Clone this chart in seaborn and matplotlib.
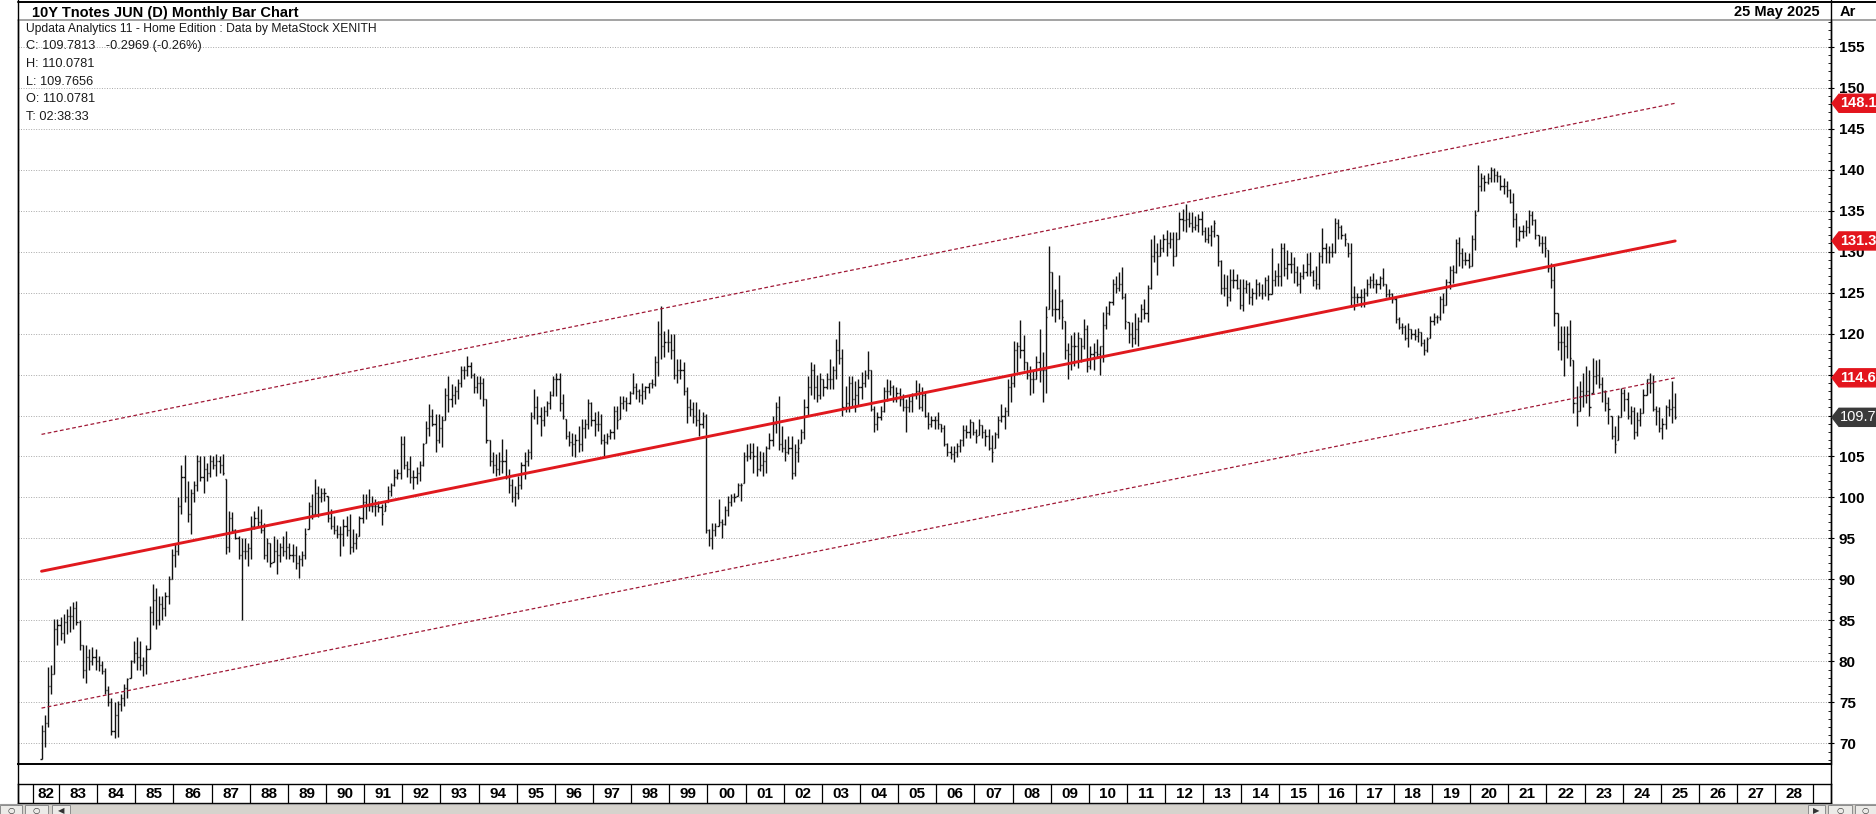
import numpy as np
import pandas as pd
import matplotlib
matplotlib.use("Agg")
import matplotlib.pyplot as plt
import matplotlib.transforms as mtransforms
from matplotlib.patches import Polygon, Rectangle
from matplotlib.ticker import MultipleLocator
import seaborn as sns

# ---- data: monthly bars, first bar is Jul 1982 ----
first_year = 1982
first_month = 7

highs = [
    72.2, 73.5, 79.3, 79.5, 85.2, 85.2,                                          # 1982
    85.4, 85.8, 86.4, 86.8, 87.2, 87.4, 85.0, 82.0, 82.0, 81.5, 81.8, 81.5,      # 1983
    80.6, 80.0, 79.2, 77.0, 75.5, 75.0, 75.2, 76.0, 77.2, 78.0, 80.2, 82.5,      # 1984
    83.0, 82.5, 80.5, 82.0, 86.8, 89.5, 89.0, 88.0, 88.0, 88.5, 90.4, 93.7,      # 1985
    94.5, 100.0, 104.0, 105.2, 102.0, 101.0, 102.0, 105.2, 105.0, 105.0, 104.2, 105.2,
    105.1, 105.3, 105.1, 105.3, 102.2, 98.4, 98.2, 96.1, 95.3, 95.1, 95.1, 94.5,
    97.8, 98.4, 99.0, 98.6, 96.9, 95.1, 94.5, 95.3, 94.9, 94.5, 95.3, 95.9,      # 1988
    94.5, 94.3, 94.1, 93.0, 93.5, 96.3, 99.4, 100.4, 102.2, 101.4, 101.2, 101.2,
    100.2, 98.6, 97.8, 96.7, 96.5, 97.4, 97.8, 98.0, 96.1, 95.7, 97.8, 100.4,    # 1990
    100.4, 101.0, 100.2, 99.8, 99.6, 99.2, 99.6, 101.4, 101.8, 103.5, 103.5, 107.5,
    107.5, 104.5, 105.1, 103.3, 103.7, 104.5, 106.7, 109.3, 111.4, 110.8, 110.2, 110.2,
    110.0, 113.4, 114.8, 113.8, 113.6, 114.4, 116.1, 116.0, 117.3, 116.5, 115.2, 114.8,
    114.8, 114.6, 112.0, 107.0, 105.5, 105.3, 105.5, 107.1, 105.9, 103.5, 102.2, 101.4,
    102.6, 104.3, 105.5, 105.9, 110.4, 113.2, 112.4, 111.0, 111.2, 111.8, 113.0, 114.8,
    115.2, 115.2, 112.6, 109.6, 108.1, 107.9, 107.7, 108.7, 109.6, 109.6, 112.0, 111.6,
    110.4, 110.6, 110.2, 107.7, 107.9, 108.3, 111.2, 111.2, 112.4, 112.4, 112.2, 113.0,
    115.2, 114.0, 113.2, 114.0, 113.6, 114.0, 114.4, 117.3, 121.5, 123.4, 120.3, 120.5,
    119.9, 119.9, 116.9, 116.9, 116.5, 113.5, 112.0, 111.6, 111.6, 110.8, 110.4, 110.2,
    96.1, 96.9, 96.9, 99.8, 97.4, 99.0, 100.2, 100.4, 100.6, 101.8, 101.8, 105.5,  # 2000
    106.5, 106.7, 106.7, 106.3, 105.7, 105.5, 106.3, 107.9, 110.0, 111.6, 112.4, 108.7,
    107.1, 107.5, 107.5, 106.5, 107.1, 108.3, 112.0, 114.8, 116.5, 116.3, 115.0, 115.2,
    114.4, 115.2, 116.9, 116.1, 119.3, 121.5, 118.1, 113.6, 114.8, 114.8, 114.2, 114.4,
    115.3, 115.5, 117.9, 115.5, 111.2, 110.4, 111.2, 113.5, 114.5, 114.3, 113.7, 113.5,
    113.3, 112.6, 112.0, 112.4, 112.8, 114.3, 114.0, 113.5, 112.8, 110.4, 110.0, 110.0,
    110.4, 109.0, 108.8, 106.7, 106.3, 106.3, 106.7, 107.1, 108.8, 108.8, 109.6, 109.2,
    108.4, 109.6, 108.8, 108.4, 108.4, 107.6, 108.0, 110.0, 111.4, 111.0, 114.5, 114.9,
    119.1, 119.0, 121.7, 119.8, 116.5, 116.1, 115.5, 117.3, 120.6, 117.7, 123.4, 130.7,
    127.5, 125.4, 127.1, 124.2, 121.5, 118.9, 119.8, 120.2, 120.2, 119.5, 121.8, 121.0,
    118.5, 118.9, 119.3, 118.5, 122.6, 123.4, 124.0, 126.7, 127.0, 127.5, 128.1, 125.0,
    121.4, 121.4, 122.5, 122.0, 123.6, 124.2, 125.9, 131.5, 132.0, 131.1, 131.5, 132.2,
    132.6, 132.4, 132.4, 132.4, 134.8, 135.2, 135.8, 134.8, 134.8, 134.4, 134.6, 135.0,
    133.0, 133.0, 133.2, 133.8, 132.0, 129.0, 127.3, 127.1, 127.9, 127.9, 127.3, 126.7,
    126.7, 126.5, 126.3, 125.6, 126.7, 126.3, 126.0, 126.9, 127.1, 130.4, 127.8, 128.6,
    131.1, 131.1, 130.2, 130.0, 129.4, 128.2, 127.5, 128.5, 129.8, 130.0, 127.8, 128.2,
    130.0, 132.9, 131.1, 130.7, 131.0, 134.1, 134.0, 133.3, 132.3, 131.1, 131.1, 125.8,
    125.0, 125.4, 125.6, 126.6, 127.0, 127.4, 126.6, 127.0, 128.0, 126.0, 125.4, 125.0,
    124.6, 122.0, 121.3, 121.0, 121.3, 120.6, 120.5, 120.7, 120.2, 119.3, 119.6, 122.1,
    122.5, 122.3, 124.6, 125.0, 126.6, 128.2, 128.4, 131.5, 131.8, 130.4, 130.0, 129.8,
    132.0, 135.1, 140.6, 139.6, 139.3, 139.6, 140.3, 140.2, 139.8, 139.3, 139.0, 138.6,
    137.6, 137.2, 134.7, 133.1, 133.3, 133.9, 135.1, 135.0, 134.0, 132.0, 131.9, 131.9,
    130.2, 128.6, 128.2, 122.5, 120.9, 120.9, 120.9, 121.7, 116.8, 113.6, 114.2, 115.2,
    116.1, 115.6, 117.0, 116.8, 116.9, 114.7, 113.1, 112.2, 110.0, 108.7, 110.1, 113.3,
    113.2, 112.9, 111.2, 111.0, 110.4, 110.9, 113.2, 114.5, 115.2, 115.0, 111.2, 111.0,
    109.7, 111.3, 112.0, 114.2, 112.8,                                            # 2025
]

lows = [
    68.1, 69.5, 72.0, 76.0, 78.5, 82.0,
    82.6, 82.2, 83.4, 83.6, 84.0, 84.4, 81.4, 78.0, 77.4, 79.0, 79.5, 79.0,
    78.8, 78.5, 76.0, 74.5, 71.0, 70.7, 70.8, 74.0, 74.5, 75.5, 78.0, 79.8,
    79.0, 79.0, 78.2, 78.5, 81.5, 84.5, 84.0, 84.5, 85.0, 85.5, 87.0, 90.0,
    91.5, 93.0, 98.0, 99.5, 97.0, 95.5, 99.5, 100.8, 102.0, 100.5, 102.0, 102.5,
    103.5, 102.6, 103.0, 102.8, 93.1, 93.3, 95.7, 94.9, 92.5, 85.0, 92.5, 91.7,
    92.5, 96.1, 96.5, 95.7, 92.5, 92.1, 91.5, 92.1, 90.7, 92.1, 92.8, 92.5,
    92.5, 92.1, 91.3, 90.2, 91.7, 92.5, 96.1, 97.4, 97.8, 97.6, 99.4, 99.6,
    97.0, 96.1, 95.5, 95.1, 92.9, 94.1, 95.3, 93.1, 93.3, 93.7, 95.3, 96.9,
    97.4, 98.4, 98.2, 97.8, 98.2, 96.7, 98.4, 99.4, 100.2, 101.4, 102.2, 102.2,
    103.5, 102.5, 101.8, 101.0, 101.6, 102.0, 103.9, 106.7, 107.5, 108.7, 105.5, 106.7,
    106.1, 109.5, 110.4, 111.0, 111.4, 112.0, 113.5, 114.5, 114.8, 114.6, 112.8, 112.8,
    112.0, 111.2, 106.7, 103.9, 103.0, 102.6, 102.8, 103.0, 102.2, 100.5, 99.4, 99.0,
    99.8, 101.0, 102.2, 103.9, 104.7, 109.6, 109.0, 107.5, 108.7, 110.0, 110.8, 112.4,
    112.4, 110.5, 109.6, 107.1, 106.3, 105.1, 104.9, 105.5, 105.7, 107.3, 108.3, 108.7,
    107.5, 108.1, 106.5, 105.1, 106.5, 107.1, 107.1, 108.3, 109.6, 110.8, 110.6, 111.4,
    112.6, 112.0, 111.6, 111.4, 112.0, 112.8, 113.4, 113.6, 114.8, 116.9, 117.1, 117.7,
    116.9, 114.4, 114.0, 114.4, 112.5, 109.1, 110.0, 109.1, 108.7, 107.5, 108.5, 95.7,
    94.1, 93.7, 95.3, 96.5, 95.0, 96.6, 97.8, 99.0, 99.4, 100.2, 99.6, 101.8,
    104.5, 104.7, 103.0, 102.6, 103.2, 102.6, 103.0, 105.9, 106.3, 107.9, 105.8, 105.5,
    104.5, 105.3, 102.2, 102.6, 104.3, 106.7, 107.1, 110.0, 112.5, 112.0, 111.6, 112.0,
    112.4, 113.2, 113.2, 113.2, 114.4, 116.3, 110.0, 110.4, 110.4, 111.2, 110.4, 111.2,
    112.0, 113.5, 114.5, 110.5, 108.0, 108.2, 109.4, 110.4, 111.8, 112.5, 111.6, 111.6,
    111.2, 110.6, 108.0, 110.4, 110.4, 112.0, 110.8, 110.5, 109.8, 108.4, 108.6, 108.4,
    108.4, 108.0, 106.3, 105.1, 104.7, 104.3, 104.9, 105.5, 106.3, 107.2, 107.2, 107.6,
    106.7, 107.6, 107.2, 106.3, 105.8, 104.3, 106.0, 107.2, 109.2, 108.4, 110.0, 111.6,
    113.5, 115.3, 117.0, 115.5, 114.5, 112.5, 112.8, 114.5, 114.1, 111.6, 112.8, 123.0,
    122.2, 121.4, 121.8, 120.5, 116.9, 114.5, 115.5, 116.0, 115.8, 116.5, 118.1, 115.3,
    115.7, 115.5, 117.2, 114.9, 116.5, 120.5, 122.3, 123.5, 125.0, 125.2, 124.2, 120.6,
    118.9, 118.3, 118.7, 118.5, 121.4, 121.8, 121.4, 125.4, 128.7, 127.1, 129.5, 129.9,
    129.5, 130.5, 128.3, 129.5, 131.5, 132.5, 132.4, 133.0, 132.4, 132.6, 132.4, 132.0,
    131.2, 131.1, 130.7, 131.8, 128.3, 124.8, 124.6, 123.4, 124.0, 125.5, 125.4, 123.0,
    122.8, 125.0, 123.6, 123.5, 124.2, 124.6, 124.2, 124.6, 124.1, 124.8, 125.8, 125.8,
    125.8, 127.0, 126.6, 127.4, 126.2, 125.8, 125.0, 126.6, 127.0, 127.0, 125.8, 125.4,
    125.4, 128.6, 128.6, 128.6, 129.4, 129.8, 131.5, 131.5, 130.7, 129.4, 123.3, 122.9,
    123.7, 123.3, 123.2, 124.6, 125.5, 125.6, 125.0, 125.4, 125.8, 124.5, 124.2, 123.7,
    121.3, 120.5, 119.9, 119.2, 118.3, 119.3, 119.2, 119.0, 118.5, 117.4, 117.8, 119.5,
    121.0, 121.3, 121.7, 122.5, 123.5, 125.4, 126.2, 127.4, 128.2, 128.0, 128.4, 128.0,
    128.2, 130.2, 134.9, 137.4, 137.4, 138.2, 138.5, 138.5, 138.5, 137.5, 137.0, 136.7,
    135.9, 133.0, 130.6, 131.3, 131.7, 131.9, 132.3, 133.3, 131.5, 130.7, 129.8, 129.4,
    127.5, 125.5, 120.9, 118.0, 116.8, 114.8, 117.0, 116.0, 110.3, 108.7, 110.5, 111.1,
    111.5, 110.0, 112.8, 113.8, 113.4, 111.7, 110.5, 109.0, 107.1, 105.4, 107.0, 109.8,
    110.5, 109.6, 109.0, 107.1, 107.5, 108.7, 110.3, 112.5, 112.8, 110.6, 108.9, 108.0,
    107.1, 108.3, 110.0, 109.1, 109.6,
]

closes = [
    71.5, 72.5, 77.0, 78.5, 84.0, 84.5,
    83.5, 84.8, 85.5, 85.5, 86.5, 84.8, 82.0, 79.0, 80.5, 80.0, 80.5, 80.0,
    79.5, 78.8, 76.5, 75.0, 71.5, 73.5, 74.8, 75.5, 76.8, 77.8, 80.0, 81.0,
    80.5, 79.5, 80.0, 81.5, 86.0, 87.5, 85.0, 87.0, 86.5, 88.0, 90.0, 93.0,
    93.5, 99.0, 102.5, 100.0, 98.0, 100.5, 101.5, 104.5, 102.5, 103.5, 103.0, 104.5,
    104.0, 104.5, 104.0, 103.0, 94.0, 97.5, 96.0, 95.0, 93.0, 93.5, 93.5, 93.8,
    96.5, 97.5, 97.0, 96.0, 93.0, 94.5, 92.0, 93.5, 93.0, 94.0, 93.5, 94.0,
    93.0, 93.0, 92.0, 92.5, 93.0, 95.5, 99.0, 98.0, 100.5, 100.0, 100.5, 100.5,
    97.5, 96.5, 96.0, 95.5, 95.5, 96.5, 96.0, 94.0, 94.5, 95.0, 97.5, 99.5,
    99.0, 99.0, 99.0, 99.0, 98.8, 98.0, 99.0, 100.8, 101.5, 102.5, 103.0, 106.5,
    104.0, 103.5, 102.5, 102.5, 103.0, 104.0, 106.5, 108.5, 110.0, 109.0, 107.0, 108.5,
    109.5, 112.5, 112.0, 112.5, 113.0, 114.0, 115.5, 115.5, 116.0, 115.0, 113.5, 114.0,
    114.0, 112.0, 107.0, 104.5, 104.0, 103.5, 104.5, 104.5, 102.5, 101.5, 100.0, 100.5,
    101.5, 104.0, 104.5, 105.5, 110.0, 111.0, 110.0, 109.5, 110.5, 111.5, 112.5, 114.5,
    114.5, 111.5, 110.0, 107.5, 106.8, 106.5, 107.0, 106.5, 108.5, 109.0, 111.5, 109.5,
    109.0, 109.0, 107.0, 106.8, 107.5, 108.0, 110.5, 109.5, 111.5, 111.8, 111.5, 112.8,
    113.5, 113.0, 112.5, 113.0, 113.5, 114.0, 113.8, 116.5, 120.0, 118.5, 119.0, 119.0,
    118.0, 115.0, 115.5, 115.5, 113.0, 111.0, 110.8, 110.0, 109.5, 109.0, 110.0, 96.0,
    95.0, 96.0, 96.5, 97.0, 96.8, 98.5, 99.5, 100.0, 100.0, 101.5, 101.5, 105.0,
    105.0, 105.5, 105.0, 103.5, 104.0, 104.5, 106.0, 107.0, 109.0, 111.0, 106.5, 106.0,
    105.5, 106.0, 103.0, 105.5, 106.0, 108.0, 111.0, 113.5, 115.5, 113.5, 112.5, 114.5,
    113.5, 114.5, 114.5, 115.5, 118.0, 117.0, 111.0, 111.5, 114.0, 112.0, 112.5, 113.5,
    114.0, 115.0, 115.5, 110.8, 109.0, 109.8, 110.5, 113.0, 113.0, 113.5, 112.0, 112.8,
    112.0, 111.0, 111.0, 111.8, 112.5, 113.0, 111.0, 112.5, 110.0, 109.0, 109.5, 109.5,
    109.0, 108.5, 106.5, 105.5, 105.3, 105.5, 106.3, 107.0, 108.2, 108.0, 109.2, 108.0,
    107.5, 108.8, 108.0, 107.5, 106.0, 105.5, 107.8, 109.5, 110.0, 110.5, 113.5, 114.0,
    118.0, 118.5, 118.0, 116.5, 115.0, 114.5, 114.5, 116.5, 115.5, 115.5, 122.0, 127.5,
    123.0, 123.0, 124.0, 122.0, 118.0, 117.5, 118.5, 118.5, 119.5, 118.5, 120.5, 116.0,
    117.5, 117.8, 117.5, 118.5, 121.0, 122.5, 123.8, 126.0, 125.5, 126.0, 124.5, 121.5,
    120.0, 119.5, 120.5, 121.5, 123.0, 122.5, 125.5, 129.5, 130.0, 129.5, 130.5, 131.5,
    131.0, 131.5, 129.5, 131.5, 134.0, 133.8, 134.0, 133.5, 133.0, 133.2, 134.0, 132.5,
    131.5, 132.0, 132.5, 133.5, 128.8, 125.5, 125.5, 124.5, 126.5, 126.5, 125.5, 123.5,
    125.5, 126.0, 124.5, 125.0, 126.0, 125.0, 125.0, 126.5, 124.8, 126.5, 127.0, 127.0,
    130.5, 128.0, 128.5, 128.5, 127.5, 126.0, 127.0, 127.5, 128.5, 127.5, 126.5, 126.0,
    129.5, 130.5, 130.0, 130.0, 130.0, 133.5, 133.0, 132.0, 131.5, 129.8, 124.5, 124.5,
    124.5, 124.5, 125.0, 126.0, 126.5, 126.0, 126.0, 126.8, 126.0, 124.8, 124.8, 124.2,
    121.8, 120.8, 120.8, 119.5, 120.5, 120.0, 119.7, 120.2, 118.8, 118.0, 119.3, 121.5,
    122.0, 122.0, 124.2, 123.5, 126.3, 127.8, 127.5, 131.0, 129.8, 129.0, 129.0, 128.3,
    131.5, 134.5, 138.0, 139.0, 138.5, 139.0, 140.0, 139.3, 139.2, 138.0, 138.0, 137.5,
    136.0, 134.0, 131.5, 132.5, 132.5, 133.0, 134.5, 133.8, 132.0, 131.0, 131.0, 130.5,
    128.0, 126.5, 122.5, 119.0, 119.0, 118.5, 120.0, 117.0, 111.5, 110.5, 113.0, 112.5,
    113.0, 111.0, 114.8, 115.0, 113.8, 113.0, 111.5, 110.8, 107.5, 106.5, 109.8, 112.8,
    112.0, 110.0, 110.5, 108.0, 109.5, 110.3, 112.5, 114.5, 114.0, 110.8, 110.5, 108.5,
    109.0, 111.0, 110.8, 111.0, 109.78,
]

# regression channel, value at the first and at the last bar
channel_mid = [91.0, 131.3]
channel_upper = [107.7, 148.1]
channel_lower = [74.3, 114.6]

price_ticks = list(range(70, 160, 5))
year_labels = ["%02d" % (y % 100) for y in range(1982, 2029)]
year_edges = [1982.33] + list(range(1983, 2030))

tags = [(148.1, "148.1", "#e3151d"), (131.3, "131.3", "#e3151d"),
        (114.6, "114.6", "#e3151d"), (109.78, "109.78", "#3a3a3a")]

info_header = "Updata Analytics 11 - Home Edition : Data by MetaStock XENITH"
info_lines = ["C: 109.7813   -0.2969 (-0.26%)", "H: 110.0781", "L: 109.7656",
              "O: 110.0781", "T: 02:38:33"]

# ---- build the frame ----
n = len(highs)
t = first_year + (first_month - 1 + np.arange(n) + 0.5) / 12.0
bars = pd.DataFrame({"t": t, "high": highs, "low": lows, "close": closes})
bars["open"] = bars["close"].shift(1).fillna(bars["low"])
bars["open"] = bars["open"].clip(lower=bars["low"], upper=bars["high"])

chan = pd.DataFrame({"t": [t[0], t[-1]], "mid": channel_mid,
                     "upper": channel_upper, "lower": channel_lower})

# ---- style ----
sns.set_theme(style="white")
plt.rcParams["font.family"] = ["Liberation Sans", "DejaVu Sans"]

W, H = 1876, 814
fig = plt.figure(figsize=(W / 100, H / 100), dpi=100)
fig.patch.set_facecolor("white")


def box(x0, y0, x1, y1):
    return [x0 / W, 1 - y1 / H, (x1 - x0) / W, (y1 - y0) / H]


ax = fig.add_axes(box(18, 20, 1831, 764))
strip = fig.add_axes(box(18, 784, 1831, 803))
over = fig.add_axes([0, 0, 1, 1], zorder=5)
over.set_xlim(0, W)
over.set_ylim(H, 0)
over.axis("off")

xlim = (1981.925, 2029.46)

# grid
for v in price_ticks:
    ax.axhline(v, color="#a8a8a8", lw=0.7, ls=(0, (1, 1.6)), zorder=0)

# OHLC bars
ax.vlines(bars["t"], bars["low"], bars["high"], color="#111111", lw=1.0, zorder=2)
ax.hlines(bars["open"], bars["t"] - 0.03, bars["t"], color="#111111", lw=1.0, zorder=2)
ax.hlines(bars["close"], bars["t"], bars["t"] + 0.03, color="#111111", lw=1.0, zorder=2)

# channel
sns.lineplot(data=chan, x="t", y="mid", ax=ax, color="#e0191e", lw=2.1, zorder=3)
sns.lineplot(data=chan, x="t", y="upper", ax=ax, color="#a01836", lw=0.9,
             linestyle=(0, (3, 2)), zorder=3)
sns.lineplot(data=chan, x="t", y="lower", ax=ax, color="#a01836", lw=0.9,
             linestyle=(0, (3, 2)), zorder=3)

ax.set_xlim(*xlim)
ax.set_ylim(67.48, 158.26)
ax.set_xlabel("")
ax.set_ylabel("")
ax.set_xticks([])
ax.yaxis.tick_right()
ax.set_yticks(price_ticks)
ax.set_yticklabels([str(v) for v in price_ticks], fontsize=11, fontweight="bold")
ax.yaxis.set_minor_locator(MultipleLocator(1))
ax.tick_params(axis="y", which="major", direction="inout", length=4.5, width=0.8,
               pad=3.5, colors="black", right=True, left=False)
ax.tick_params(axis="y", which="minor", direction="in", length=2.2, width=0.6,
               colors="black", right=True, left=False)
ax.spines["top"].set_visible(False)
for s in ["left", "right"]:
    ax.spines[s].set_color("black")
    ax.spines[s].set_linewidth(1.0)
ax.spines["bottom"].set_color("black")
ax.spines["bottom"].set_linewidth(1.4)

# year strip
strip.set_xlim(*xlim)
strip.set_ylim(0, 1)
strip.set_xticks([])
strip.set_yticks([])
strip.vlines(year_edges, 0, 1, color="black", lw=0.9)
for i, lab in enumerate(year_labels):
    strip.text((year_edges[i] + year_edges[i + 1]) / 2, 0.45, lab, ha="center",
               va="center", fontsize=11, fontweight="bold", color="black")
for s in strip.spines.values():
    s.set_color("black")
    s.set_linewidth(1.0)

# frame / header lines
over.plot([18, W], [1.5, 1.5], color="black", lw=1.4)
over.plot([18, W], [20, 20], color="#8a8a8a", lw=1.1)
over.plot([18, 18], [0, 804], color="black", lw=1.0)
over.plot([1831, 1831], [0, 804], color="black", lw=1.0)

# header text
fig.text(32 / W, 1 - 16.5 / H, "10Y Tnotes JUN (D) Monthly Bar Chart", fontsize=10.5,
         fontweight="bold", va="baseline", color="black")
fig.text(1820 / W, 1 - 16 / H, "25 May 2025", fontsize=10.5, fontweight="bold",
         ha="right", va="baseline", color="black")
fig.text(1840 / W, 1 - 16 / H, "Ar", fontsize=10.5, fontweight="bold",
         va="baseline", color="black")
fig.text(26 / W, 1 - 31.7 / H, info_header, fontsize=8.7, va="baseline", color="#1a1a1a")
info_y = [49.5, 67.2, 84.8, 102.4, 120.0]
for txt, yy in zip(info_lines, info_y):
    fig.text(26 / W, 1 - yy / H, txt, fontsize=9.2, va="baseline", color="#1a1a1a")

# price tags on the right axis
tr = mtransforms.blended_transform_factory(over.transData, ax.transData)
for v, lab, col in tags:
    hh = 1.1
    poly = Polygon([(1832, v), (1839, v + hh), (1880, v + hh), (1880, v - hh),
                    (1839, v - hh)], closed=True, facecolor=col, edgecolor=col,
                   transform=tr, clip_on=False, zorder=6)
    over.add_patch(poly)
    over.text(1840, v, lab, transform=tr, color="white", fontsize=10.5,
              fontweight="bold" if col != "#3a3a3a" else "normal",
              va="center", ha="left", zorder=7, clip_on=False)

# scroll bar at the bottom
over.add_patch(Rectangle((0, 804), W, 10, facecolor="#d6d3cd", edgecolor="none"))
over.plot([0, W], [804, 804], color="#9c9c9c", lw=0.8)
for x0, w, glyph in [(0, 22, "○"), (25, 23, "○"), (52, 18, "◀"),
                     (1808, 17, "▶"), (1828, 24, "○"), (1855, 21, "○")]:
    over.add_patch(Rectangle((x0, 805), w, 9, facecolor="#ecebe8", edgecolor="#8c8c8c",
                             lw=0.7))
    over.text(x0 + w / 2, 811, glyph, ha="center", va="center", fontsize=6,
              color="#333333", family="DejaVu Sans")

fig.savefig("out.png", dpi=100)
